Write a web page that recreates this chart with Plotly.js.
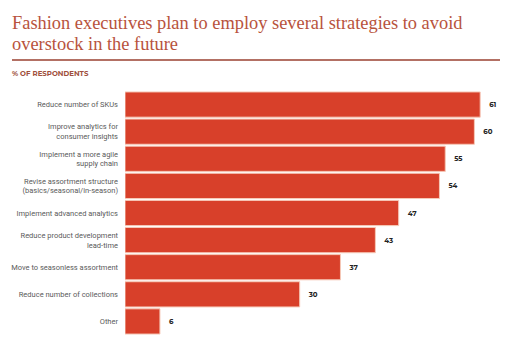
<!DOCTYPE html>
<html>
<head>
<meta charset="utf-8">
<script src="https://cdn.plot.ly/plotly-3.0.1.min.js"></script>
<style>html,body{margin:0;padding:0;background:#fff;}#chart{width:515px;height:356px;}</style>
</head>
<body>
<div id="chart"></div>
<script>
const categories = [
  "Reduce number of SKUs",
  "Improve analytics for<br>consumer insights",
  "Implement a more agile<br>supply chain",
  "Revise assortment structure<br>(basics/seasonal/in-season)",
  "Implement advanced analytics",
  "Reduce product development<br>lead-time",
  "Move to seasonless assortment",
  "Reduce number of collections",
  "Other"
];
const values = [61, 60, 55, 54, 47, 43, 37, 30, 6];
const titleLines = ["Fashion executives plan to employ several strategies to avoid", "overstock in the future"];
const subtitle = "% OF RESPONDENTS";

const trace = {
  type: "bar",
  orientation: "h",
  y: categories,
  x: values,
  marker: {color: "#d8402a", line: {color: "#f6c9b8", width: 1}},
  text: values.map(v => "\u00a0\u00a0\u00a0" + v),
  textposition: "outside",
  cliponaxis: false,
  textfont: {family: "Montserrat, Roboto, sans-serif", size: 7, color: "#222", weight: 700},
  hoverinfo: "none"
};

const L = 125, W = 375, T = 91, H = 244;
const px = x => (x - L) / W;
const py = y => 1 + (T - y) / H;

const layout = {
  width: 515, height: 356,
  margin: {l: L, r: 15, t: T, b: 21},
  paper_bgcolor: "#fff", plot_bgcolor: "#fff",
  bargap: 0.07,
  showlegend: false,
  xaxis: {range: [0, 64.4], showgrid: false, zeroline: false, showticklabels: false, ticks: "", showline: false},
  yaxis: {autorange: "reversed", showgrid: false, zeroline: false, showline: false, ticks: "",
          ticklabelstandoff: 6,
          tickfont: {family: "Roboto, 'Noto Sans', sans-serif", size: 7.5, color: "#5a5a5a"}},
  annotations: [
    {xref: "paper", yref: "paper", x: px(10), y: py(23), xanchor: "left", yanchor: "middle",
     text: titleLines[0], showarrow: false,
     font: {family: "'Liberation Serif', 'DejaVu Serif', serif", size: 18.4, color: "#b8533d"}},
    {xref: "paper", yref: "paper", x: px(10), y: py(44), xanchor: "left", yanchor: "middle",
     text: titleLines[1], showarrow: false,
     font: {family: "'Liberation Serif', 'DejaVu Serif', serif", size: 18.4, color: "#b8533d"}},
    {xref: "paper", yref: "paper", x: px(10), y: py(73), xanchor: "left", yanchor: "middle",
     text: "<b>" + subtitle + "</b>", showarrow: false,
     font: {family: "Montserrat, Roboto, sans-serif", size: 7, color: "#a0503c"}}
  ],
  shapes: [
    {type: "line", xref: "paper", yref: "paper", x0: px(12), x1: px(500),
     y0: py(60), y1: py(60), line: {color: "#9a4030", width: 1.5}}
  ]
};

Plotly.newPlot("chart", [trace], layout, {displayModeBar: false, staticPlot: true});
</script>
</body>
</html>
